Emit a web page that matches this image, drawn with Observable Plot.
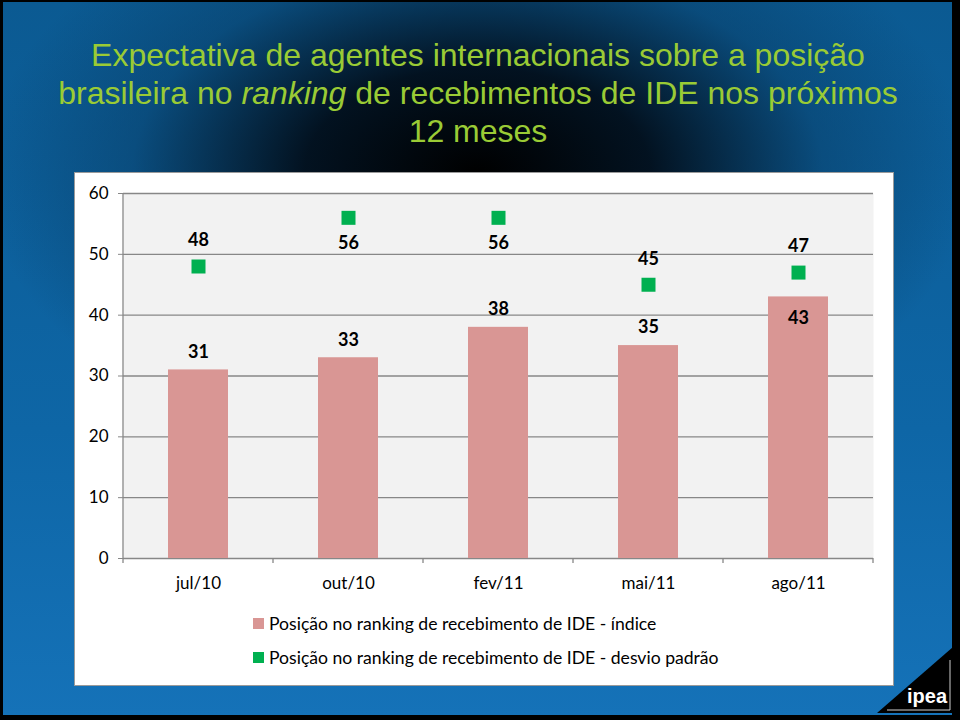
<!DOCTYPE html>
<html>
<head>
<meta charset="utf-8">
<script src="https://cdn.jsdelivr.net/npm/d3@7"></script>
<script src="https://cdn.jsdelivr.net/npm/@observablehq/plot@0.6"></script>
<style>
  html, body { margin: 0; padding: 0; }
  body { width: 960px; height: 720px; background: #000; position: relative; overflow: hidden; }
  #bg { position: absolute; left: 3px; top: 2px; width: 949px; height: 713px;
    background:
      radial-gradient(ellipse 52% 42% at 50% 24%, rgba(0,0,0,1) 0%, rgba(2,14,26,0.95) 35%, rgba(8,60,100,0.5) 70%, rgba(11,90,146,0) 100%),
      linear-gradient(180deg, #0b5a92 0%, #0e66a6 60%, #1572b8 100%);
  }
  #title { position: absolute; left: 0; top: 36px; width: 956px; text-align: center;
    font-family: "Liberation Sans", Arial, sans-serif; font-size: 32px; line-height: 38px; color: #9acb35; }
  #panel { position: absolute; left: 75px; top: 173px; width: 818px; height: 512px; background: #fff;
    box-shadow: 0 0 0 1px #9a9a9a; }
  #chart { position: absolute; left: 0; top: 0; }
  #legend { position: absolute; left: 178px; top: 433px; font-family: Lato, sans-serif; font-size: 17.6px; color: #000; }
  .row { display: flex; align-items: center; height: 34px; }
  .sw { width: 11px; height: 11px; margin-right: 5px; }
  #logo { position: absolute; left: 0; top: 0; }
</style>
</head>
<body>
<div id="bg"></div>
<div id="title">Expectativa de agentes internacionais sobre a posição<br>brasileira no <i>ranking</i> de recebimentos de IDE nos próximos<br>12 meses</div>
<div id="panel">
  <div id="chart"></div>
  <div id="legend"></div>
</div>
<svg id="logo" width="960" height="720">
  <polygon points="877,713 953,647 953,713" fill="#000"/>
  <polyline points="887,710 950,710 950,660" fill="none" stroke="#cfcfcf" stroke-width="1"/>
  <text x="927" y="703" text-anchor="middle" font-family="Liberation Sans, Arial, sans-serif" font-weight="bold" font-size="20" fill="#fff">ipea</text>
</svg>
<script>
const categories = ["jul/10", "out/10", "fev/11", "mai/11", "ago/11"];
const indice = [31, 33, 38, 35, 43];
const desvio = [48, 56, 56, 45, 47];
const yTicks = [0, 10, 20, 30, 40, 50, 60];
const seriesNames = [
  "Posição no ranking de recebimento de IDE - índice",
  "Posição no ranking de recebimento de IDE - desvio padrão"
];
const colors = ["#d99694", "#00b050"];

const data = categories.map((c, i) => ({cat: c, indice: indice[i], desvio: desvio[i]}));

// axis line + category boundary ticks, drawn from the plot frame dimensions
function categoryTicks(index, scales, values, dims) {
  const g = d3.create("svg:g");
  const x0 = dims.marginLeft, x1 = dims.width - dims.marginRight;
  const yb = dims.height - dims.marginBottom;
  const n = categories.length;
  const step = (x1 - x0) / n;
  g.append("line").attr("x1", x0).attr("x2", x0).attr("y1", dims.marginTop).attr("y2", yb + 5)
    .attr("stroke", "#878787").attr("stroke-width", 1.3);
  for (let i = 1; i <= n; i++) {
    const x = x0 + i * step;
    g.append("line").attr("x1", x).attr("x2", x).attr("y1", yb).attr("y2", yb + 5)
      .attr("stroke", "#878787").attr("stroke-width", 1.3);
  }
  return g.node();
}

const chart = Plot.plot({
  width: 818,
  height: 427,
  marginLeft: 48,
  marginRight: 20,
  marginTop: 20,
  marginBottom: 42,
  style: {fontFamily: "Lato, sans-serif", background: "transparent", overflow: "visible"},
  x: {domain: categories, paddingInner: 0.6, paddingOuter: 0.3, label: null},
  y: {domain: [0, 60], label: null},
  marks: [
    Plot.frame({fill: "#f2f2f2", stroke: "none"}),
    Plot.ruleY(yTicks, {stroke: "#878787", strokeWidth: 1.3}),
    Plot.barY(data, {x: "cat", y: "indice", fill: colors[0]}),
    Plot.dot(data, {x: "cat", y: "desvio", symbol: "square", r: 7.9, fill: colors[1], stroke: "none"}),
    Plot.text(data.filter(d => d.indice <= 40), {x: "cat", y: "indice", text: d => String(d.indice), dy: -18, fontSize: 18, fontWeight: "bold", fill: "#000"}),
    Plot.text(data.filter(d => d.indice > 40), {x: "cat", y: "indice", text: d => String(d.indice), dy: 21, fontSize: 18, fontWeight: "bold", fill: "#000"}),
    Plot.text(data.filter(d => d.desvio <= 50), {x: "cat", y: "desvio", text: d => String(d.desvio), dy: -26, fontSize: 18, fontWeight: "bold", fill: "#000"}),
    Plot.text(data.filter(d => d.desvio > 50), {x: "cat", y: "desvio", text: d => String(d.desvio), dy: 25, fontSize: 18, fontWeight: "bold", fill: "#000"}),
    Plot.axisY({ticks: yTicks, tickSize: 5, tickPadding: 10, fontSize: 17, stroke: "#878787", fill: "#000"}),
    Plot.axisX({tickSize: 0, tickPadding: 18, fontSize: 17, fill: "#000"}),
    categoryTicks
  ]
});
document.getElementById("chart").appendChild(chart);

const legend = document.getElementById("legend");
seriesNames.forEach((name, i) => {
  const row = document.createElement("div");
  row.className = "row";
  const sw = document.createElement("div");
  sw.className = "sw";
  sw.style.background = colors[i];
  const t = document.createElement("span");
  t.textContent = name;
  row.appendChild(sw);
  row.appendChild(t);
  legend.appendChild(row);
});
</script>
</body>
</html>
